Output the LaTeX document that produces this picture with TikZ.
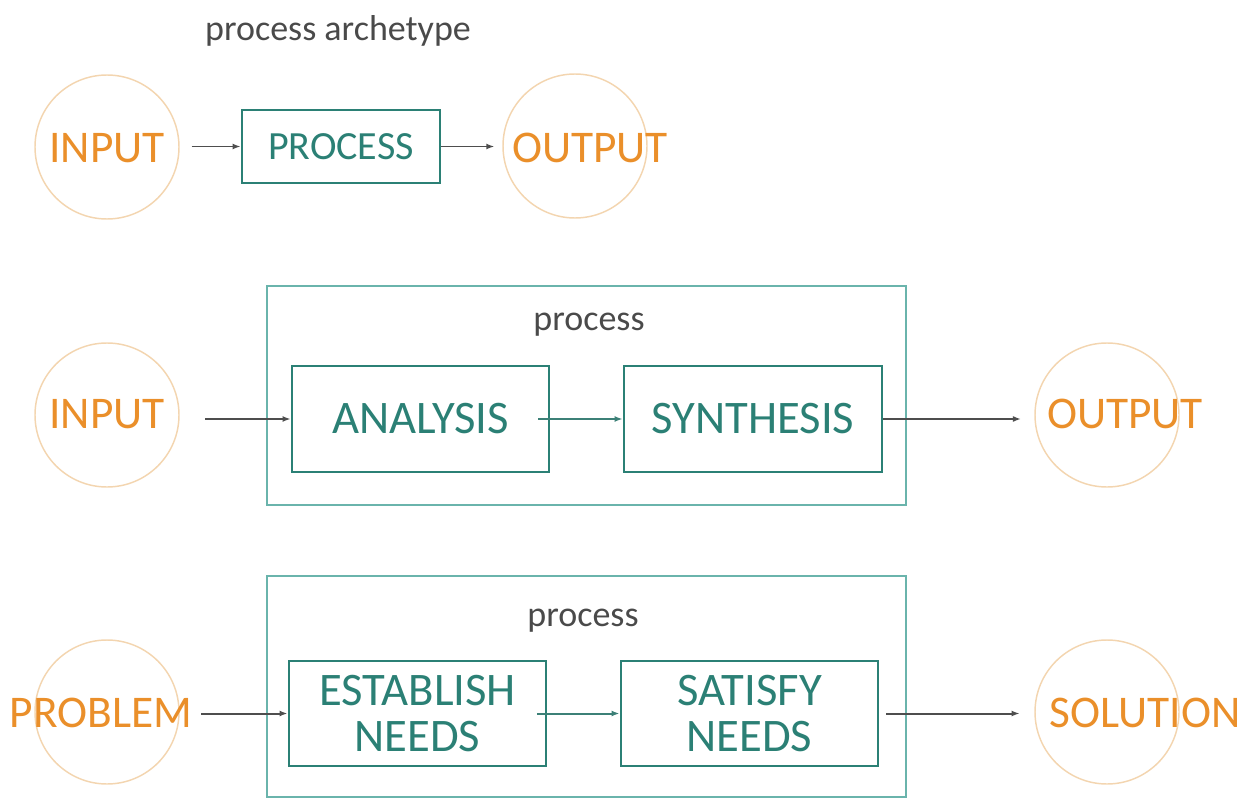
\documentclass[tikz,border=0pt]{standalone}
\usepackage{fontspec}
\setmainfont{Carlito}
\usetikzlibrary{positioning,arrows.meta}
\definecolor{myorange}{HTML}{EA8F2A}
\definecolor{mycircle}{HTML}{F3D5B0}
\definecolor{myteal}{HTML}{2B8075}
\definecolor{myframe}{HTML}{6AB4AC}
\definecolor{mygray}{HTML}{4A4A4A}
\definecolor{myarr}{HTML}{4E4E4E}
\tikzset{
mycirc/.style={
  circle,
  draw=mycircle,
  line width=1.1pt,
  minimum size=108pt,
  inner sep=0pt
  },
myword/.style={
  text=myorange,
  inner sep=0pt,
  font=\fontsize{34}{36}\selectfont
  },
mybox/.style 2 args={
  rectangle,
  draw=myteal,
  line width=2.2pt,
  text=myteal,
  align=center,
  minimum width=#1,
  minimum height=#2,
  font=\fontsize{35}{34.5}\selectfont
  },
myfrm/.style={
  rectangle,
  draw=myframe,
  line width=1.5pt,
  minimum width=479pt,
  minimum height=#1
  },
mylabel/.style={
  text=mygray,
  font=\fontsize{27}{29}\selectfont
  },
myarrow/.style={
  -{Latex[length=6pt,width=4.5pt]},
  draw=myarr,
  line width=1.1pt
  }
}

\begin{document}
\begin{tikzpicture}[x=0.75pt,y=-0.75pt]
\useasboundingbox (0,0) rectangle (1247,799);

\node[mylabel] (title) at (338,31) {process archetype};

\begin{scope}
\node[mycirc] (in1c) at (107,147) {};
\node[mycirc] (out1c) at (575,146) {};
\node[myword] (in1) at (107,148) {INPUT};
\node[myword] (out1) at (590,148) {OUTPUT};
\node[mybox={148.5pt}{54.75pt},font=\fontsize{30}{32}\selectfont] (proc) at (341,146.5) {PROCESS};

\draw[myarrow] ([xshift=9pt]in1c.east |- proc.west) -- (proc.west);
\draw[myarrow] (proc.east) -- ([xshift=-6pt]out1c.west |- proc.east);
\end{scope}

\begin{scope}
\node[myfrm=164.25pt] (frm2) at (586.5,395.5) {};
\node[mylabel] (lbl2) at (589,325) {process};
\node[mycirc] (in2c) at (107,415) {};
\node[mycirc] (out2c) at (1107,415) {};
\node[myword] (in2) at (107,414) {INPUT};
\node[myword] (out2) at (1125,414) {OUTPUT};
\node[mybox={192.75pt}{79.5pt}] (ana) at (420.5,419) {ANALYSIS};
\node[mybox={193.5pt}{79.5pt}] (syn) at (753,419) {SYNTHESIS};

\draw[myarrow] ([xshift=19pt]in2c.east |- ana.west) -- (ana.west);
\draw[myarrow,draw=myteal!80!gray] ([xshift=-9pt]ana.east) -- (syn.west);
\draw[myarrow] (syn.east) -- ([xshift=-10pt]out2c.west |- syn.east);
\end{scope}

\begin{scope}
\node[myfrm=165.75pt] (frm3) at (586.5,686.5) {};
\node[mylabel] (lbl3) at (583,621) {process};
\node[mycirc] (probc) at (107,712) {};
\node[mycirc] (solc) at (1107,712) {};
\node[myword] (prob) at (101,713) {PROBLEM};
\node[myword] (sol) at (1145,713) {SOLUTION};
\node[mybox={192.75pt}{78.75pt}] (est) at (417.5,713.5) {ESTABLISH\\NEEDS};
\node[mybox={192.75pt}{78.75pt}] (sat) at (749.5,713.5) {SATISFY\\NEEDS};

\draw[myarrow,line width=1.5pt] ([xshift=16pt]probc.east |- est.west) -- (est.west);
\draw[myarrow,line width=1.5pt,draw=myteal!80!gray] ([xshift=-8pt]est.east) -- (sat.west);
\draw[myarrow,line width=1.5pt] ([xshift=5pt]sat.east) -- ([xshift=-11pt]solc.west |- sat.east);
\end{scope}

\end{tikzpicture}
\end{document}
